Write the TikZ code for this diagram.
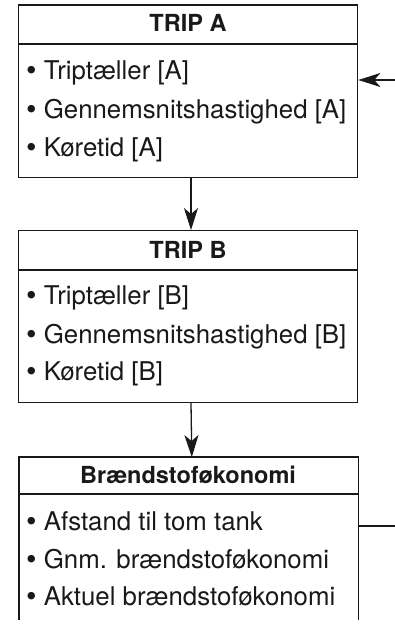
\documentclass[tikz,border=0pt]{standalone}
\usepackage{fontspec}
\setmainfont{TeX Gyre Heros}
\usetikzlibrary{arrows.meta}
\newcommand{\bul}{{\fontsize{30}{30}\selectfont\raisebox{-1pt}{•}}}
\begin{document}
\begin{tikzpicture}[x=1pt,y=-1pt,
  box/.style={draw=black!90, line width=1.3pt, inner sep=0pt},
  rule/.style={draw=black!90, line width=1.3pt},
  hdr/.style={font=\fontsize{23.5}{28}\selectfont\bfseries, anchor=base, inner sep=0pt, text=black!90},
  item/.style={font=\fontsize{25.8}{30}\selectfont, anchor=base west, inner sep=0pt, text=black!90},
  conn/.style={draw=black!90, line width=1.3pt, -{Stealth[length=22pt,width=14pt,inset=6pt]}}]
\useasboundingbox (0,0) rectangle (395,626);
% Box A
\node[box, minimum width=339.4pt, minimum height=172.7pt] (A) at (188,91.35) {};
\coordinate (Ah) at (188,44);
\draw[rule] (A.west |- Ah) -- (A.east |- Ah);
\node[hdr] (Ahd) at (188,31.5) {TRIP A};
\node[item] (A1) at (26,79) {\bul\ Triptæller [A]};
\node[item] (A2) at (26,118) {\bul\ Gennemsnitshastighed [A]};
\node[item] (A3) at (26,156) {\bul\ Køretid [A]};
% Box B
\node[box, minimum width=339.4pt, minimum height=171.6pt] (B) at (188,316.5) {};
\coordinate (Bh) at (188,270);
\draw[rule] (B.west |- Bh) -- (B.east |- Bh);
\node[hdr] (Bhd) at (188,258) {TRIP B};
\node[item] (B1) at (26,304) {\bul\ Triptæller [B]};
\node[item] (B2) at (26,343) {\bul\ Gennemsnitshastighed [B]};
\node[item] (B3) at (26,380) {\bul\ Køretid [B]};
% Box C (open at the bottom)
\node[inner sep=0pt, minimum width=339pt, minimum height=162.7pt] (C) at (188.8,538.65) {};
\draw[rule] (C.south west) |- (C.north east) -- (C.south east);
\coordinate (Ch) at (188,494);
\draw[rule] (C.west |- Ch) -- (C.east |- Ch);
\node[hdr] (Chd) at (188,483.3) {Brændstoføkonomi};
\node[item] (C1) at (26,530) {\bul\ Afstand til tom tank};
\node[item] (C2) at (26,568) {\bul\ Gnm. brændstoføkonomi};
\node[item] (C3) at (26,605) {\bul\ Aktuel brændstoføkonomi};
% connectors
\draw[conn] ([xshift=3pt]A.south) -- ([xshift=3pt]B.north);
\draw[conn] ([xshift=3pt]B.south) -- ([xshift=3pt]C.north);
\coordinate (inA) at (395,80);
\draw[conn] (inA) -- (A.east |- inA);
\coordinate (outC) at (395,526);
\draw[rule] (C.east |- outC) -- (outC);
\end{tikzpicture}
\end{document}
